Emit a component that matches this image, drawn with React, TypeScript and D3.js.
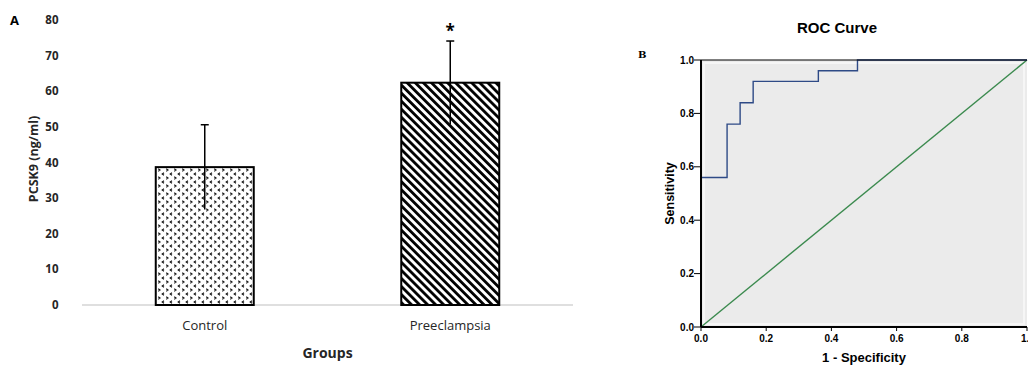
import * as d3 from "d3";

// Panel A: bar chart
const groups = ["Control", "Preeclampsia"];
const means = [38.7, 62.4];
const sds = [11.9, 11.7];
const yTicksA = [0, 10, 20, 30, 40, 50, 60, 70, 80];

// Panel B: ROC curve
const rocFpr = [0, 0, 0.08, 0.08, 0.12, 0.12, 0.16, 0.16, 0.36, 0.36, 0.48, 0.48, 1];
const rocTpr = [0, 0.56, 0.56, 0.76, 0.76, 0.84, 0.84, 0.92, 0.92, 0.96, 0.96, 1, 1];
const rocTicks = [0, 0.2, 0.4, 0.6, 0.8, 1.0];

export default function App() {
  const W = 1028;
  const H = 365;

  // --- panel A scales
  const xA = d3.scalePoint<string>().domain(groups).range([82, 573]).padding(0.5);
  const yA = d3.scaleLinear().domain([0, 80]).range([305, 20]);
  const barW = 98;

  // --- panel B scales
  const xB = d3.scaleLinear().domain([0, 1]).range([701, 1027]);
  const yB = d3.scaleLinear().domain([0, 1]).range([327, 60]);
  const rocLine = d3
    .line<number>()
    .x((d) => xB(d))
    .y((_, i) => yB(rocTpr[i]));

  const fontA = "'Open Sans', Lato, sans-serif";
  const fontB = "'Liberation Sans', Arial, sans-serif";

  return (
    <svg width={W} height={H} style={{ position: "absolute", left: 0, top: 0, background: "#fff" }}>
      <defs>
        <pattern id="chev" width="8" height="8" patternUnits="userSpaceOnUse" x="157" y="168">
          <rect width="8" height="8" fill="#fff" />
          <path d="M1.2,0.8 L3,2 L1.2,3.2" fill="none" stroke="#111" strokeWidth="1.1" />
          <path d="M7,4.8 L5.2,6 L7,7.2" fill="none" stroke="#111" strokeWidth="1.1" />
        </pattern>
        <pattern id="stripes" width="5.7" height="5.7" patternUnits="userSpaceOnUse" patternTransform="rotate(-45)">
          <rect width="5.7" height="5.7" fill="#fff" />
          <rect x="0" width="2.8" height="5.7" fill="#000" />
        </pattern>
      </defs>

      {/* ===== Panel A ===== */}
      <text x={10} y={25} fontFamily={fontA} fontWeight="bold" fontSize={13}>A</text>
      {yTicksA.map((t) => (
        <text key={t} x={58.5} y={yA(t) + 4} textAnchor="end" fontFamily={fontA} fontWeight="bold" fontSize={11.5} fill="#262626">
          {t}
        </text>
      ))}
      <text
        transform={`translate(38,${yA(41)}) rotate(-90)`}
        textAnchor="middle"
        fontFamily={fontA}
        fontWeight="bold"
        fontSize={12.5}
        fill="#262626"
      >
        PCSK9 (ng/ml)
      </text>
      <line x1={82} x2={573} y1={yA(0)} y2={yA(0)} stroke="#bfbfbf" strokeWidth={1} />
      {groups.map((g, i) => (
        <g key={g}>
          <rect
            x={xA(g)! - barW / 2}
            y={yA(means[i])}
            width={barW}
            height={yA(0) - yA(means[i])}
            fill={i === 0 ? "url(#chev)" : "url(#stripes)"}
            stroke="#000"
            strokeWidth={2}
          />
          <line x1={xA(g)} x2={xA(g)} y1={yA(means[i] - sds[i])} y2={yA(means[i] + sds[i])} stroke="#000" strokeWidth={1.5} />
          <line x1={xA(g)! - 4} x2={xA(g)! + 4} y1={yA(means[i] + sds[i])} y2={yA(means[i] + sds[i])} stroke="#000" strokeWidth={1.5} />
          <text x={xA(g)} y={yA(0) + 25} textAnchor="middle" fontFamily={fontA} fontSize={13} fill="#262626">
            {g}
          </text>
        </g>
      ))}
      <text x={xA("Preeclampsia")} y={yA(means[1] + sds[1]) - 4} textAnchor="middle" fontFamily={fontA} fontWeight="bold" fontSize={17}>
        *
      </text>
      <text x={327.5} y={358} textAnchor="middle" fontFamily={fontA} fontWeight="bold" fontSize={14} fill="#262626">
        Groups
      </text>

      {/* ===== Panel B ===== */}
      <text x={638} y={58} fontFamily="'DejaVu Serif', 'Liberation Serif', serif" fontWeight="bold" fontSize={10}>B</text>
      <text x={837} y={33} textAnchor="middle" fontFamily={fontB} fontWeight="bold" fontSize={15}>ROC Curve</text>
      <rect x={xB(0)} y={yB(1)} width={xB(1) - xB(0)} height={yB(0) - yB(1)} fill="#ebebeb" />
      <rect x={xB(0) + 3} y={yB(1) + 3} width={xB(1) - xB(0) - 6} height={yB(0) - yB(1) - 6} fill="none" stroke="#f6f6f6" strokeWidth={2} />
      <line x1={xB(0)} x2={xB(1)} y1={yB(0)} y2={yB(1)} stroke="#3b8a4e" strokeWidth={1.4} />
      <path d={rocLine(rocFpr) || ""} fill="none" stroke="#2e4a86" strokeWidth={1.4} />
      <line x1={xB(0)} x2={xB(1)} y1={yB(1)} y2={yB(1)} stroke="#000" strokeWidth={1.2} />
      <line x1={xB(0)} x2={xB(0)} y1={yB(1)} y2={yB(0)} stroke="#000" strokeWidth={2} />
      <line x1={xB(0)} x2={xB(1)} y1={yB(0)} y2={yB(0)} stroke="#000" strokeWidth={2} />
      {rocTicks.map((t) => (
        <g key={"y" + t}>
          <line x1={xB(0) - 7} x2={xB(0)} y1={yB(t)} y2={yB(t)} stroke="#000" strokeWidth={1} />
          <text x={xB(0) - 7} y={yB(t) + 3.5} textAnchor="end" fontFamily={fontB} fontWeight="bold" fontSize={10}>
            {t.toFixed(1)}
          </text>
        </g>
      ))}
      {rocTicks.map((t) => (
        <g key={"x" + t}>
          <line x1={xB(t)} x2={xB(t)} y1={yB(0)} y2={yB(0) + 4} stroke="#000" strokeWidth={1} />
          <text x={xB(t)} y={yB(0) + 15} textAnchor={t === 1 ? "start" : "middle"} dx={t === 1 ? -6 : 0} fontFamily={fontB} fontWeight="bold" fontSize={10}>
            {t.toFixed(1)}
          </text>
        </g>
      ))}
      <text
        transform={`translate(674,${yB(0.5)}) rotate(-90)`}
        textAnchor="middle"
        fontFamily={fontB}
        fontWeight="bold"
        fontSize={12.5}
      >
        Sensitivity
      </text>
      <text x={864} y={362} textAnchor="middle" fontFamily={fontB} fontWeight="bold" fontSize={13}>
        1 - Specificity
      </text>
    </svg>
  );
}
